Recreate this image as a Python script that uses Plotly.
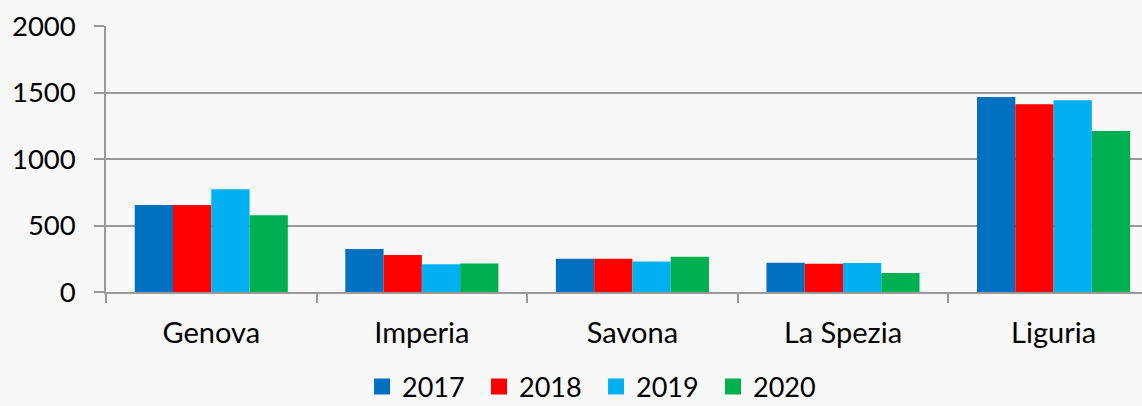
import plotly.graph_objects as go

categories = ["Genova", "Imperia", "Savona", "La Spezia", "Liguria"]
years = ["2017", "2018", "2019", "2020"]
v2017 = [655, 323, 250, 220, 1466]
v2018 = [655, 278, 250, 213, 1411]
v2019 = [772, 208, 230, 218, 1441]
v2020 = [577, 215, 265, 143, 1211]
colors = ["#0070C0", "#FF0000", "#00B0F0", "#00B050"]

series = [v2017, v2018, v2019, v2020]
fig = go.Figure()
for name, vals, col in zip(years, series, colors):
    fig.add_trace(go.Bar(x=categories, y=vals, name=name, legendgroup=name,
                         showlegend=False,
                         marker=dict(color=col, line=dict(width=0))))
# legend entries with larger square swatches
for name, col in zip(years, colors):
    fig.add_trace(go.Scatter(x=[None], y=[None], mode="markers", name=name,
                             legendgroup=name,
                             marker=dict(symbol="square", size=18, color=col,
                                         line=dict(width=0))))

font = "Lato, 'Open Sans', sans-serif"
fig.update_layout(
    width=1142, height=406,
    margin=dict(l=106, r=0, t=26, b=114, autoexpand=False),
    paper_bgcolor="#f8f8f8", plot_bgcolor="#f8f8f8",
    barmode="group", bargap=0.273, bargroupgap=0,
    font=dict(family=font, size=28, color="#000000"),
    showlegend=True,
    legend=dict(orientation="h", x=0.473, xanchor="center", y=-0.357, yanchor="middle",
                font=dict(size=27), entrywidth=72, bgcolor="rgba(0,0,0,0)",
                itemwidth=30, itemsizing="trace"),
    xaxis=dict(range=[-0.5, 4.42], showline=True, linecolor="#999999", linewidth=1.5,
               ticks="outside", tickson="boundaries", ticklen=9, tickcolor="#999999",
               tickwidth=1.5, showgrid=False, ticklabelstandoff=14, automargin=False,
               tickfont=dict(size=29)),
    yaxis=dict(range=[0, 2000], tickvals=[0, 500, 1000, 1500, 2000],
               showline=True, linecolor="#999999", linewidth=1.5,
               showgrid=True, gridcolor="#999999", gridwidth=1.5,
               ticks="outside", ticklen=10, tickcolor="#999999", tickwidth=1.5,
               zeroline=False, ticklabelstandoff=13, automargin=False,
               tickfont=dict(size=27.5)),
)
fig.write_html("out.html", config={"displayModeBar": False},
               post_script="document.body.style.margin='0';document.body.style.overflow='hidden';")
